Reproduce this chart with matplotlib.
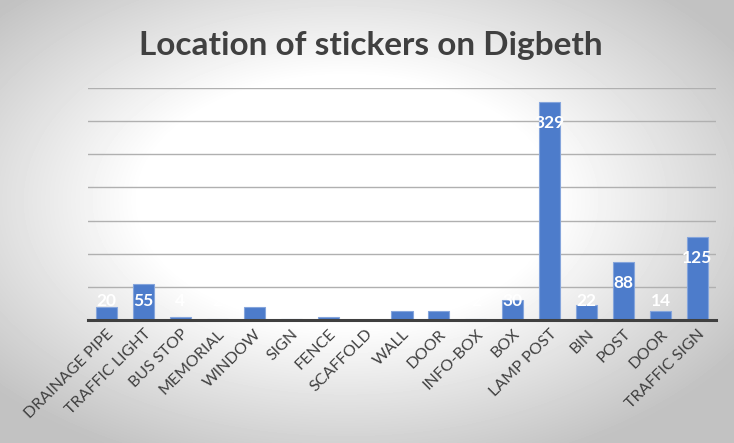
import numpy as np
import matplotlib.pyplot as plt

# Sticker counts per location
categories = ['DRAINAGE PIPE', 'TRAFFIC LIGHT', 'BUS STOP', 'MEMORIAL', 'WINDOW',
              'SIGN', 'FENCE', 'SCAFFOLD', 'WALL', 'DOOR', 'INFO-BOX', 'BOX',
              'LAMP POST', 'BIN', 'POST', 'DOOR', 'TRAFFIC SIGN']
counts = [20, 55, 4, 2, 19, 1, 4, 0, 14, 14, 2, 30, 329, 22, 88, 14, 125]

W, H = 734, 443
fig = plt.figure(figsize=(W / 100, H / 100), dpi=100)

# radial gradient background, white in the middle, grey towards the edges
bg = fig.add_axes([0, 0, 1, 1], zorder=-10)
yy, xx = np.mgrid[0:H, 0:W]
r = np.sqrt(((xx - 345) / W) ** 2 + ((yy - 200) / H) ** 2)
shade = 1 - 0.3 * np.clip((r - 0.28) / 0.45, 0, None)
shade = np.clip(shade, 0.76, 1)
bg.imshow(shade, cmap='gray', vmin=0, vmax=1, aspect='auto', interpolation='bilinear')
bg.axis('off')

ax = fig.add_axes([88 / W, 1 - 320 / H, (716 - 88) / W, (320 - 88) / H])
ax.patch.set_alpha(0)

x = np.arange(len(categories))
ax.bar(x, counts, width=0.57, color='#4D7CCB', edgecolor='#85A5DC', linewidth=0.8, zorder=3)

ax.set_xlim(-0.5, len(categories) - 0.5)
ax.set_ylim(0, 350)
ax.set_yticks(np.arange(50, 351, 50))
ax.yaxis.grid(True, color='#b0b0b0', linewidth=1)
ax.tick_params(axis='y', left=False, labelleft=False)
ax.tick_params(axis='x', length=0, pad=5)
for s in ['top', 'right', 'left']:
    ax.spines[s].set_visible(False)
ax.spines['bottom'].set_color('#404040')
ax.spines['bottom'].set_linewidth(2.2)
ax.spines['bottom'].set_zorder(4)

ax.set_xticks(x)
ax.set_xticklabels(categories, rotation=45, ha='right', rotation_mode='anchor',
                   fontsize=11.5, color='#404040', family='Lato')

# data labels in white
for xi, v in zip(x, counts):
    ax.text(xi, max(v - 32, 29), str(v), ha='center', va='center', color='white',
            fontsize=12.5, fontweight='bold', family='Lato', zorder=5)

fig.text(0.505, 1 - 45 / H, 'Location of stickers on Digbeth', ha='center', va='center',
         fontsize=24, fontweight='bold', color='#404040', family='Lato')

fig.savefig('out.png', dpi=100)
